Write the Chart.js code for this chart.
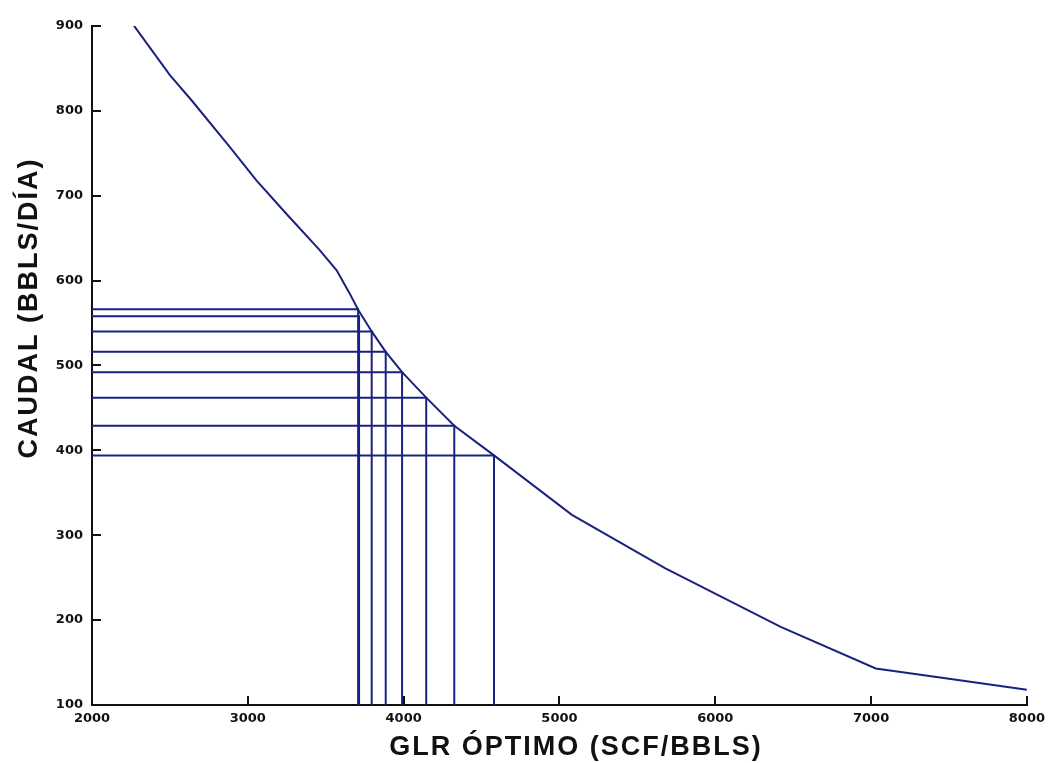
<!DOCTYPE html>
<html>
<head>
<meta charset="utf-8">
<script src="https://cdn.jsdelivr.net/npm/chart.js@4/dist/chart.umd.min.js"></script>
<style>
  html, body { margin: 0; padding: 0; background: #ffffff; }
  #wrap { width: 1060px; height: 763px; position: relative; }
</style>
</head>
<body>
<div id="wrap"><canvas id="c" width="1060" height="763"></canvas></div>
<script>
// Curve: GLR óptimo vs caudal
const curveGLR    = [2270, 2500, 2640, 2885, 3055, 3250, 3460, 3570, 3650, 3710, 3795, 3885, 3990, 4145, 4325, 4580, 5080, 5680, 6420, 7030, 7500, 8000];
const curveCaudal = [900, 842, 812, 757, 718, 678, 636, 612, 586, 565, 540, 516, 492, 462, 429, 394, 324, 261, 192, 143, 131, 118];

// Reference (read-off) points
const refGLR    = [3708, 3714, 3795, 3885, 3990, 4145, 4325, 4580];
const refCaudal = [566, 558, 540, 516, 492, 462, 429, 394];

// Axis ticks
const xTicks = [2000, 3000, 4000, 5000, 6000, 7000, 8000];
const yTicks = [100, 200, 300, 400, 500, 600, 700, 800, 900];

const xTitle = 'GLR ÓPTIMO (SCF/BBLS)';
const yTitle = 'CAUDAL (BBLS/DÍA)';

const lineColor = '#1a2280';

const datasets = [{
  data: curveGLR.map((x, i) => ({ x: x, y: curveCaudal[i] })),
  borderColor: lineColor,
  borderWidth: 2,
  pointRadius: 0,
  showLine: true,
  tension: 0
}];
refGLR.forEach((g, i) => {
  datasets.push({
    data: [
      { x: xTicks[0], y: refCaudal[i] },
      { x: g, y: refCaudal[i] },
      { x: g, y: yTicks[0] }
    ],
    borderColor: lineColor,
    borderWidth: 2,
    pointRadius: 0,
    showLine: true,
    tension: 0
  });
});

const titlePlugin = {
  id: 'axisTitles',
  afterDraw(chart) {
    const ctx = chart.ctx;
    ctx.save();
    ctx.fillStyle = '#111111';
    ctx.font = 'bold 27px "Liberation Sans", Arial, sans-serif';
    try { ctx.letterSpacing = '2px'; } catch (e) {}
    ctx.textAlign = 'center';
    ctx.textBaseline = 'alphabetic';
    ctx.fillText(xTitle, 576, 755);
    ctx.translate(37, 308);
    ctx.rotate(-Math.PI / 2);
    ctx.fillText(yTitle, 0, 0);
    ctx.restore();
  }
};

new Chart(document.getElementById('c'), {
  type: 'scatter',
  data: { datasets: datasets },
  options: {
    responsive: false,
    animation: false,
    layout: { padding: { left: 0, top: 20, right: 30, bottom: 0 } },
    plugins: { legend: { display: false }, tooltip: { enabled: false } },
    scales: {
      x: {
        type: 'linear',
        min: xTicks[0],
        max: xTicks[xTicks.length - 1],
        afterBuildTicks(scale) { scale.ticks = xTicks.map(v => ({ value: v })); },
        afterFit(scale) { scale.height = 58; },
        border: { display: true, color: '#111111', width: 2 },
        grid: { drawOnChartArea: false, drawTicks: true, tickLength: -9, color: '#111111', lineWidth: 2 },
        ticks: {
          padding: 15,
          color: '#111111',
          font: { family: '"DejaVu Sans", sans-serif', size: 13, weight: 'bold' },
          callback: v => String(v)
        }
      },
      y: {
        type: 'linear',
        min: yTicks[0],
        max: yTicks[yTicks.length - 1],
        afterBuildTicks(scale) { scale.ticks = yTicks.map(v => ({ value: v })); },
        afterFit(scale) { scale.width = 92; },
        border: { display: true, color: '#111111', width: 2 },
        grid: { drawOnChartArea: false, drawTicks: true, tickLength: -9, color: '#111111', lineWidth: 2 },
        ticks: {
          padding: 18,
          color: '#111111',
          font: { family: '"DejaVu Sans", sans-serif', size: 13, weight: 'bold' },
          callback: v => String(v)
        }
      }
    }
  },
  plugins: [titlePlugin]
});
</script>
</body>
</html>
